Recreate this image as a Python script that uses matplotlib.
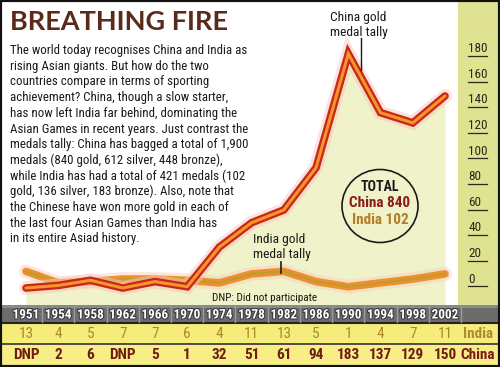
import matplotlib
matplotlib.use("Agg")
import matplotlib.pyplot as plt
import matplotlib.patheffects as pe
from matplotlib.patches import Ellipse, Rectangle
import numpy as np

# ---------------- data ----------------
years = ["1951", "1954", "1958", "1962", "1966", "1970", "1974", "1978",
         "1982", "1986", "1990", "1994", "1998", "2002"]
india_gold = [13, 4, 5, 7, 7, 6, 4, 11, 13, 5, 1, 4, 7, 11]
china_gold_labels = ["DNP", "2", "6", "DNP", "5", "1", "32", "51", "61", "94",
                     "183", "137", "129", "150"]
china_gold = [0, 2, 6, 0, 5, 1, 32, 51, 61, 94, 183, 137, 129, 150]
y_ticks = [0, 20, 40, 60, 80, 100, 120, 140, 160, 180]

title = "BREATHING FIRE"
body = [
    "The world today recognises China and India as",
    "rising Asian giants. But how do the two",
    "countries compare in terms of sporting",
    "achievement? China, though a slow starter,",
    "has now left India far behind, dominating the",
    "Asian Games in recent years. Just contrast the",
    "medals tally: China has bagged a total of 1,900",
    "medals (840 gold, 612 silver, 448 bronze),",
    "while India has had a total of 421 medals (102",
    "gold, 136 silver, 183 bronze). Also, note that",
    "the Chinese have won more gold in each of",
    "the last four Asian Games than India has",
    "in its entire Asiad history.",
]

NARROW = ["Roboto Condensed", "DejaVu Sans"]

W, H = 500, 367
fig = plt.figure(figsize=(W / 100, H / 100), dpi=100)
fig.patch.set_facecolor("white")


def fx(px):
    return px / W


def fy(py):
    return 1 - py / H


# ---------------- geometry ----------------
plot_right = 458
table_top = 305
step = 32.23
x0px = 26
xmin = -x0px / step
zero_px = 288
ppu = 1.28
ymin = -(table_top - zero_px) / ppu
ymax = zero_px / ppu

x = np.arange(len(years))

ax = fig.add_axes([0, fy(table_top), fx(plot_right), table_top / H])
ax.set_xlim(xmin, xmin + plot_right / step)
ax.set_ylim(ymin, ymax)
ax.axis("off")

# fill under china line
ax.fill_between(x, china_gold, ymin, color="#f0f2ca", lw=0, zorder=1)

# India line
ax.plot(x, india_gold, color="#f8d0c0", lw=10, alpha=0.5, solid_capstyle="round",
        solid_joinstyle="round", zorder=2)
ax.plot(x, india_gold, color="#f0902c", lw=5.5, solid_capstyle="round",
        solid_joinstyle="round", zorder=3)
ax.plot(x, india_gold, color="#c49a30", lw=2, solid_capstyle="round",
        solid_joinstyle="round", zorder=4)
# China line
ax.plot(x, china_gold, color="#f8c8c0", lw=10, alpha=0.5, solid_capstyle="round",
        solid_joinstyle="miter", zorder=5)
ax.plot(x, china_gold, color="#c8281a", lw=5.5, solid_capstyle="round",
        solid_joinstyle="miter", zorder=6)
ax.plot(x, china_gold, color="#f5962a", lw=2.2, solid_capstyle="round",
        solid_joinstyle="miter", zorder=7)

# right strip with axis labels
axr = fig.add_axes([fx(plot_right), fy(table_top), fx(W - plot_right), table_top / H],
                   sharey=ax)
axr.set_facecolor("#dfe290")
axr.set_xlim(0, 1)
for s in axr.spines.values():
    s.set_visible(False)
axr.tick_params(left=False, labelleft=False, bottom=False, labelbottom=False)
for v in y_ticks:
    axr.text(0.24, v + 1.8, str(v), fontsize=9.5, family=NARROW, color="#2a2a1a",
             ha="left", va="bottom")
    axr.plot([0.24, 0.68], [v + 1.2, v + 1.2], color="#2a2a1a", lw=0.9)

# ---------------- text block ----------------
fig.text(fx(10), fy(30), title, fontsize=19.5, family=["Lato", "DejaVu Sans"],
         weight="bold", color="#5a2a1c", va="baseline", ha="left")
for i, line in enumerate(body):
    fig.text(fx(10), fy(54 + 15.7 * i), line, fontsize=9.3, family=NARROW,
             color="#1a1a1a", va="baseline", ha="left")

# annotations
fig.text(fx(330), fy(21), "China gold", fontsize=9.6, family=NARROW, color="#1a1a1a",
         va="baseline")
fig.text(fx(330), fy(36), "medal tally", fontsize=9.6, family=NARROW, color="#1a1a1a",
         va="baseline")
fig.add_artist(plt.Line2D([fx(361), fx(361)], [fy(38), fy(70)], color="#1a1a1a", lw=1))

fig.text(fx(253), fy(243), "India gold", fontsize=9.6, family=NARROW, color="#1a1a1a",
         va="baseline")
fig.text(fx(253), fy(258), "medal tally", fontsize=9.6, family=NARROW, color="#1a1a1a",
         va="baseline")
fig.add_artist(plt.Line2D([fx(281), fx(281)], [fy(262), fy(273)], color="#1a1a1a", lw=1.2))

fig.add_artist(Ellipse((fx(380), fy(206)), fx(76), 73 / H, fill=False,
                       edgecolor="#1a1a1a", lw=1.2))
fig.text(fx(380), fy(187), "TOTAL", fontsize=10, family=NARROW, weight="bold",
         color="#1a1a1a", ha="center", va="center")
fig.text(fx(380), fy(203), "China 840", fontsize=11, family=NARROW, weight="bold",
         color="#8a1c1a", ha="center", va="center")
fig.text(fx(380), fy(220), "India 102", fontsize=11, family=NARROW, weight="bold",
         color="#b47c26", ha="center", va="center")

fig.text(fx(212), fy(301), "DNP: Did not participate", fontsize=8, family=NARROW,
         color="#1a1a1a", va="baseline")

# ---------------- table ----------------
axt = fig.add_axes([0, 0, 1, (H - table_top) / H])
axt.set_xlim(xmin, xmin + W / step)
axt.set_ylim(H, table_top)
axt.axis("off")
nx = len(years)
axt.add_patch(Rectangle((xmin, table_top), W / step, 18, color="#6c6c6c", lw=0))
axt.add_patch(Rectangle((xmin, table_top), W / step, 3, color="#8a8a8a", lw=0))
axt.add_patch(Rectangle((xmin, table_top + 18), W / step, 21, color="#f6ec7c", lw=0))
axt.add_patch(Rectangle((xmin, table_top + 39), W / step, 23, color="#f7ee88", lw=0))
axt.axhline(table_top + 18, color="#222222", lw=1.5)
axt.axhline(table_top + 39, color="#333333", lw=1.2)
for i in range(nx):
    axt.plot([i + 0.5, i + 0.5], [table_top + 1, table_top + 17], color="#9a9a9a", lw=1)
    axt.text(i, table_top + 10, years[i], fontsize=9.5, family=NARROW, weight="bold",
             color="white", ha="center", va="center",
             path_effects=[pe.withStroke(linewidth=1.5, foreground="#3a3a3a")])
    axt.text(i, table_top + 29, str(india_gold[i]), fontsize=11, family=NARROW,
             color="#a88a2a", ha="center", va="center")
    axt.text(i, table_top + 50, china_gold_labels[i], fontsize=11, family=NARROW,
             weight="bold", color="#6e1c12", ha="center", va="center")
axt.text(nx + 0.02, table_top + 29, "India", fontsize=11, family=NARROW, weight="bold",
         color="#b08a32", ha="center", va="center")
axt.text(nx + 0.02, table_top + 50, "China", fontsize=11, family=NARROW, weight="bold",
         color="#7a1a1a", ha="center", va="center")

# outer border
fig.add_artist(Rectangle((0, 0), 1, 1, fill=False, edgecolor="#111111", lw=3,
                         transform=fig.transFigure))

fig.savefig("out.png", dpi=100)
